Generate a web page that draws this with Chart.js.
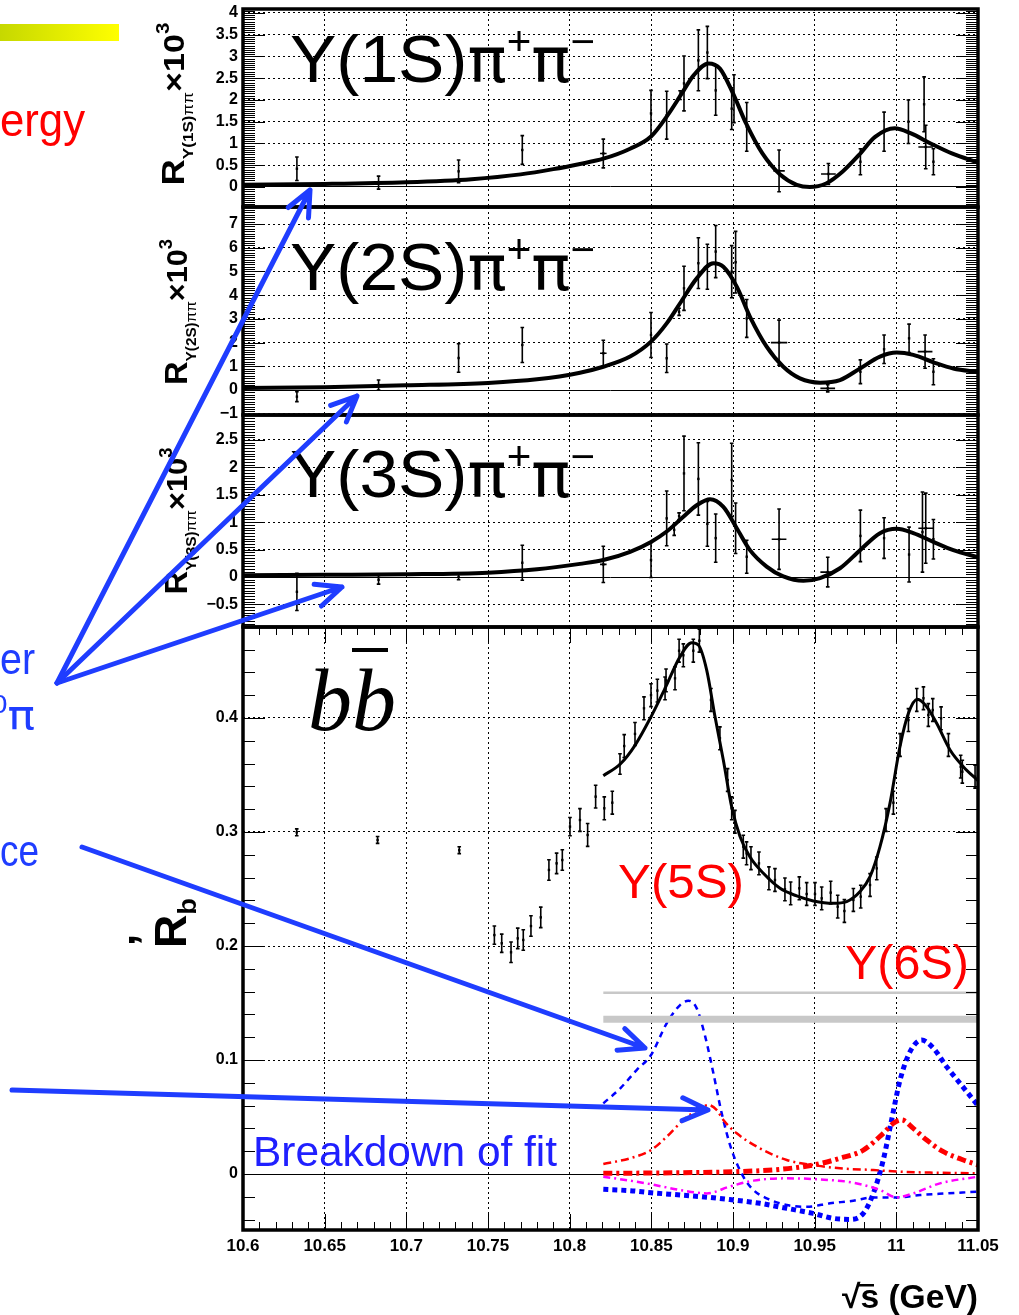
<!DOCTYPE html>
<html>
<head>
<meta charset="utf-8">
<script src="https://cdn.jsdelivr.net/npm/chart.js@4.4.1/dist/chart.umd.min.js"></script>
<style>
  body { margin: 0; background: #fff; }
  #wrap { position: relative; width: 1019px; height: 1315px; overflow: hidden; }
  #wrap canvas { position: absolute; left: 0; top: 0; }
</style>
</head>
<body>
<div id="wrap">
  <canvas id="p1" width="1019" height="1315"></canvas>
  <canvas id="p2" width="1019" height="1315"></canvas>
  <canvas id="p3" width="1019" height="1315"></canvas>
  <canvas id="p4" width="1019" height="1315"></canvas>
</div>
<script>
// x axis (sqrt(s) in GeV), shared by all panels
const xTickValues = [10.6, 10.65, 10.7, 10.75, 10.8, 10.85, 10.9, 10.95, 11, 11.05];
const xTickLabels = ['10.6', '10.65', '10.7', '10.75', '10.8', '10.85', '10.9', '10.95', '11', '11.05'];

// Y(1S) pi+ pi-   (R x 10^3)
const y1sX    = [10.633, 10.683, 10.732, 10.771, 10.8206, 10.8498, 10.8594, 10.8676, 10.870, 10.8788, 10.8843, 10.8894, 10.8992, 10.9006, 10.9084, 10.9282, 10.9584, 10.978, 10.9925, 11.0074, 11.017, 11.018, 11.0227];
const y1sR    = [0.42, 0.10, 0.36, 0.85, 0.77, 1.69, 1.65, 2.11, 2.38, 2.91, 3.09, 2.22, 1.80, 2.03, 1.38, 0.37, 0.30, 0.58, 1.27, 1.50, 1.90, 0.92, 0.58];
const y1sErr  = [0.27, 0.15, 0.26, 0.33, 0.33, 0.53, 0.55, 0.10, 0.63, 0.70, 0.60, 0.57, 0.48, 0.55, 0.56, 0.48, 0.24, 0.30, 0.45, 0.50, 0.63, 0.50, 0.30];
const y1sXErr = [0, 0, 0, 0, 0.002, 0, 0, 0, 0, 0, 0, 0, 0, 0, 0, 0.0035, 0.0045, 0, 0, 0, 0, 0.0045, 0];
const y1sFitX = [10.60, 10.65, 10.70, 10.74, 10.77, 10.79, 10.8063, 10.8206, 10.837, 10.8498, 10.86, 10.868, 10.876, 10.885, 10.892, 10.90, 10.908, 10.918, 10.929, 10.939, 10.947, 10.957, 10.967, 10.977, 10.987, 10.999, 11.009, 11.021, 11.034, 11.05];
const y1sFitR = [0.05, 0.07, 0.11, 0.18, 0.29, 0.41, 0.53, 0.65, 0.88, 1.16, 1.65, 2.11, 2.57, 2.84, 2.72, 2.15, 1.46, 0.77, 0.28, 0.05, 0.0, 0.08, 0.35, 0.73, 1.15, 1.35, 1.23, 1.0, 0.77, 0.56];
const y1sTicks = [0, 0.5, 1, 1.5, 2, 2.5, 3, 3.5, 4];

// Y(2S) pi+ pi-
const y2sX    = [10.633, 10.683, 10.732, 10.771, 10.8206, 10.8498, 10.8594, 10.867, 10.870, 10.8788, 10.8843, 10.8894, 10.8992, 10.9016, 10.9084, 10.9282, 10.958, 10.978, 10.9925, 11.0078, 11.0176, 11.0227];
const y2sR    = [-0.28, 0.21, 1.35, 1.90, 1.55, 2.32, 1.34, 3.30, 4.29, 5.35, 5.20, 5.84, 4.99, 5.39, 3.02, 2.00, 0.07, 0.77, 1.72, 2.18, 1.62, 0.77];
const y2sErr  = [0.21, 0.21, 0.60, 0.74, 0.55, 0.95, 0.60, 0.15, 0.93, 1.07, 0.95, 1.10, 1.10, 1.30, 0.80, 0.95, 0.15, 0.50, 0.60, 0.60, 0.70, 0.55];
const y2sXErr = [0, 0, 0, 0, 0.002, 0, 0, 0, 0, 0, 0, 0, 0, 0, 0, 0.005, 0.0045, 0, 0, 0, 0.0045, 0];
const y2sFitX = [10.60, 10.65, 10.70, 10.75, 10.78, 10.8063, 10.8206, 10.837, 10.8498, 10.8594, 10.8676, 10.8778, 10.888, 10.8941, 10.9023, 10.9104, 10.9206, 10.9308, 10.941, 10.9533, 10.9655, 10.9778, 10.99, 11.0002, 11.0104, 11.0227, 11.0349, 11.05];
const y2sFitR = [0.08, 0.12, 0.20, 0.30, 0.45, 0.73, 0.98, 1.41, 2.04, 2.81, 3.66, 4.71, 5.35, 5.20, 4.36, 3.09, 1.83, 0.98, 0.49, 0.31, 0.42, 0.91, 1.41, 1.58, 1.48, 1.17, 0.91, 0.76];
const y2sTicks = [-1, 0, 1, 2, 3, 4, 5, 6, 7];

// Y(3S) pi+ pi-
const y3sX    = [10.633, 10.683, 10.732, 10.771, 10.8206, 10.8498, 10.8594, 10.864, 10.867, 10.870, 10.8788, 10.8843, 10.8894, 10.8992, 10.9016, 10.9084, 10.9282, 10.958, 10.978, 10.9925, 11.0078, 11.016, 11.018, 11.0227];
const y3sR    = [-0.27, -0.05, 0.0, 0.26, 0.23, 0.31, 1.07, 0.86, 1.11, 1.89, 1.79, 0.97, 0.71, 1.77, 0.89, 0.37, 0.69, 0.09, 0.75, 0.71, 0.41, 0.82, 0.89, 0.69];
const y3sErr  = [0.34, 0.08, 0.05, 0.32, 0.33, 0.32, 0.50, 0.10, 0.06, 0.68, 0.66, 0.41, 0.44, 0.67, 0.46, 0.30, 0.55, 0.27, 0.47, 0.37, 0.50, 0.73, 0.64, 0.36];
const y3sXErr = [0, 0, 0, 0, 0.002, 0, 0, 0, 0, 0, 0, 0, 0, 0, 0, 0, 0.0045, 0.0045, 0, 0, 0, 0, 0.0045, 0];
const y3sFitX = [10.60, 10.65, 10.70, 10.75, 10.78, 10.8063, 10.8206, 10.837, 10.8498, 10.8594, 10.8696, 10.8778, 10.886, 10.8941, 10.9023, 10.9104, 10.9206, 10.9308, 10.9431, 10.9533, 10.9655, 10.9778, 10.99, 11.0002, 11.0104, 11.0227, 11.0349, 11.05];
const y3sFitR = [0.03, 0.04, 0.05, 0.08, 0.14, 0.24, 0.31, 0.46, 0.64, 0.83, 1.10, 1.31, 1.42, 1.28, 0.89, 0.49, 0.19, 0.01, -0.07, -0.02, 0.16, 0.49, 0.80, 0.88, 0.80, 0.64, 0.49, 0.36];
const y3sTicks = [-0.5, 0, 0.5, 1, 1.5, 2, 2.5];

// R_b (b bbar)
const bbX = [10.6329, 10.6824, 10.7324, 10.7539, 10.7584, 10.7641, 10.7682, 10.7716, 10.7763, 10.7823, 10.7873, 10.792, 10.7955, 10.8002, 10.8063, 10.811, 10.8159, 10.8212, 10.8261, 10.8308, 10.8334,
  10.84, 10.8455, 10.8498, 10.8537, 10.8584, 10.859, 10.8645, 10.867, 10.8696, 10.8757, 10.8794, 10.8865, 10.892, 10.8967, 10.8992, 10.9012, 10.9063, 10.9083, 10.911, 10.9159, 10.922, 10.9257,
  10.9318, 10.9353, 10.9406, 10.9451, 10.9502, 10.9543, 10.9598, 10.9641, 10.9682, 10.9737, 10.9782, 10.9839, 10.988, 10.9937, 10.9982, 11.0023, 11.0074, 11.0125, 11.0166, 11.0196, 11.0223,
  11.0274, 11.0319, 11.0394, 11.0404, 11.0482];
const bbR = [0.2997, 0.293, 0.284, 0.2096, 0.2024, 0.1945, 0.2067, 0.2053, 0.2175, 0.2251, 0.2667, 0.2725, 0.2754, 0.3047, 0.3105, 0.2974, 0.331, 0.3208, 0.3257, 0.3596, 0.3754,
  0.386, 0.4085, 0.420, 0.424, 0.426, 0.433, 0.4348, 0.459, 0.455, 0.459, 0.4678, 0.4158, 0.3822, 0.3456, 0.3208, 0.309, 0.2871, 0.2813, 0.277, 0.2725, 0.2594, 0.2579,
  0.2497, 0.2462, 0.2506, 0.2456, 0.2456, 0.2418, 0.2468, 0.2345, 0.2307, 0.2404, 0.2433, 0.2535, 0.2681, 0.3105, 0.3257, 0.3763, 0.3982, 0.4158, 0.4173, 0.4026, 0.407,
  0.3997, 0.3763, 0.3573, 0.3529, 0.3485];
const bbErr = [0.003, 0.003, 0.003, 0.008, 0.008, 0.009, 0.009, 0.009, 0.009, 0.009, 0.009, 0.009, 0.009, 0.008, 0.01, 0.01, 0.01, 0.01, 0.01, 0.009, 0.01,
  0.01, 0.01, 0.01, 0.01, 0.01, 0.01, 0.01, 0.01, 0.01, 0.01, 0.01, 0.01, 0.01, 0.01, 0.01, 0.01, 0.01, 0.01, 0.01, 0.01, 0.01, 0.01,
  0.01, 0.01, 0.01, 0.01, 0.01, 0.01, 0.01, 0.01, 0.01, 0.01, 0.01, 0.01, 0.01, 0.01, 0.01, 0.01, 0.01, 0.01, 0.01, 0.01, 0.01,
  0.01, 0.01, 0.01, 0.01, 0.01];
const bbFitX = [10.8206, 10.831, 10.840, 10.8498, 10.8584, 10.8676, 10.8747, 10.8788, 10.8839, 10.889, 10.8941, 10.8992, 10.9043, 10.9104, 10.9186, 10.9288, 10.939, 10.9492, 10.9614, 10.9696,
  10.9778, 10.9839, 10.99, 10.9961, 11.0022, 11.0074, 11.0129, 11.0186, 11.0247, 11.0329, 11.041, 11.05];
const bbFitR = [0.3494, 0.3596, 0.376, 0.401, 0.426, 0.4538, 0.466, 0.464, 0.442, 0.401, 0.363, 0.322, 0.296, 0.278, 0.2638, 0.2506, 0.2439, 0.2395, 0.2374, 0.2389,
  0.2477, 0.2608, 0.2871, 0.3251, 0.3748, 0.4041, 0.4164, 0.4099, 0.3953, 0.3719, 0.3573, 0.345];
const bbTicks = [0, 0.1, 0.2, 0.3, 0.4];

// breakdown of the fit
const blue5X = [10.8206, 10.831, 10.841, 10.8498, 10.8594, 10.8676, 10.8727, 10.8778, 10.883, 10.888, 10.8931, 10.8992, 10.9063, 10.9125, 10.9206, 10.9329, 10.9451, 10.9594, 10.9737, 10.9859, 11.0002, 11.0145, 11.0308, 11.05];
const blue5R = [0.062, 0.0752, 0.0912, 0.1044, 0.1322, 0.1482, 0.152, 0.1453, 0.1205, 0.0883, 0.0532, 0.021, -0.0023, -0.014, -0.0213, -0.0272, -0.0287, -0.0257, -0.0234, -0.0205, -0.0205, -0.0184, -0.017, -0.0155];
const blue6X = [10.8206, 10.837, 10.8498, 10.8676, 10.888, 10.9002, 10.9165, 10.9329, 10.949, 10.9614, 10.9716, 10.9798, 10.9859, 10.992, 10.9971, 11.0023, 11.0084, 11.0155, 11.0227, 11.0308, 11.039, 11.05];
const blue6R = [-0.0134, -0.0146, -0.0164, -0.0184, -0.0208, -0.0228, -0.0257, -0.0301, -0.0345, -0.0389, -0.0398, -0.0345, -0.017, 0.0123, 0.0474, 0.0825, 0.1073, 0.1175, 0.1103, 0.0941, 0.0795, 0.060];
const red5X = [10.8206, 10.837, 10.8498, 10.8594, 10.8696, 10.8798, 10.8849, 10.8901, 10.8941, 10.9023, 10.9165, 10.9329, 10.949, 10.9655, 10.9859, 11.0022, 11.0267, 11.05];
const red5R = [0.0088, 0.0138, 0.021, 0.0327, 0.0474, 0.0575, 0.0605, 0.056, 0.0474, 0.0357, 0.0225, 0.0123, 0.0079, 0.005, 0.0035, 0.002, 0.0011, 0.0006];
const red6X = [10.8206, 10.8676, 10.9002, 10.9288, 10.949, 10.9655, 10.9798, 10.992, 10.9982, 11.0033, 11.0104, 11.0186, 11.0288, 11.041, 11.05];
const red6R = [0.0006, 0.0011, 0.002, 0.0041, 0.0079, 0.0138, 0.021, 0.0357, 0.0445, 0.0474, 0.040, 0.0298, 0.0196, 0.0123, 0.0079];
const magX = [10.8206, 10.847, 10.8676, 10.884, 10.898, 10.9125, 10.9329, 10.9533, 10.9737, 10.99, 11.0002, 11.0104, 11.0267, 11.05];
const magR = [-0.0023, -0.0082, -0.014, -0.017, -0.011, -0.0058, -0.0038, -0.0047, -0.0076, -0.014, -0.0205, -0.017, -0.0082, -0.0023];
const bandX = [10.8206, 11.05];
const bandThin = [0.159, 0.159];
const bandThick = [0.1357, 0.1357];

const SANS = "'Liberation Sans', Arial, Helvetica, sans-serif";
const PI_FONT = "'DejaVu Sans', 'Liberation Sans', sans-serif";
const BLUE = '#1f3dff';

const pts = (xs, ys) => xs.map((x, i) => ({ x: x, y: ys[i] }));
const fmt = v => (v < 0 ? '\u2212' : '') + Math.abs(v);

// draw a run of text pieces [text, font, rise], squeezed/stretched to a width
function drawRich(ctx, parts, x, y, width) {
  let nat = 0;
  parts.forEach(p => { ctx.font = p[1]; nat += ctx.measureText(p[0]).width; });
  ctx.save();
  ctx.translate(x, y);
  ctx.scale(width / nat, 1);
  let cx = 0;
  parts.forEach(p => {
    ctx.font = p[1];
    ctx.fillText(p[0], cx, -(p[2] || 0));
    cx += ctx.measureText(p[0]).width;
  });
  ctx.restore();
}
function drawRotated(ctx, parts, bx, cy, len) {
  ctx.save();
  ctx.translate(bx, cy);
  ctx.rotate(-Math.PI / 2);
  drawRich(ctx, parts, -len / 2, 0, len);
  ctx.restore();
}

const errorBars = {
  id: 'errbars',
  afterDatasetsDraw(chart) {
    const ctx = chart.ctx, xs = chart.scales.x, ys = chart.scales.y;
    chart.data.datasets.forEach((ds, i) => {
      if (!ds.errY) return;
      const meta = chart.getDatasetMeta(i);
      ctx.save();
      ctx.strokeStyle = '#000';
      ctx.lineWidth = 1.6;
      meta.data.forEach((pt, j) => {
        const v = ds.data[j];
        const ya = ys.getPixelForValue(v.y + ds.errY[j]);
        const yb = ys.getPixelForValue(v.y - ds.errY[j]);
        ctx.beginPath();
        ctx.moveTo(pt.x, ya); ctx.lineTo(pt.x, yb);
        ctx.moveTo(pt.x - 1.8, ya); ctx.lineTo(pt.x + 1.8, ya);
        ctx.moveTo(pt.x - 1.8, yb); ctx.lineTo(pt.x + 1.8, yb);
        const ex = ds.errX ? ds.errX[j] : 0;
        if (ex) {
          ctx.moveTo(xs.getPixelForValue(v.x - ex), pt.y);
          ctx.lineTo(xs.getPixelForValue(v.x + ex), pt.y);
        }
        ctx.stroke();
      });
      ctx.restore();
    });
  }
};

// frame + inside ticks, ROOT style
function frameTicks(majorY, minorY, xMinor) {
  return {
    id: 'frame',
    afterDraw(chart) {
      const ctx = chart.ctx, a = chart.chartArea, ys = chart.scales.y, xs = chart.scales.x;
      ctx.save();
      ctx.strokeStyle = '#000';
      ctx.lineWidth = 1;
      const n0 = Math.ceil(ys.min / minorY - 1e-6), n1 = Math.floor(ys.max / minorY + 1e-6);
      ctx.beginPath();
      for (let k = n0; k <= n1; k++) {
        const v = k * minorY;
        const major = Math.abs(v / majorY - Math.round(v / majorY)) < 1e-6;
        const py = Math.round(ys.getPixelForValue(v)) + 0.5;
        const len = major ? 22 : 12;
        ctx.moveTo(a.left, py); ctx.lineTo(a.left + len, py);
        ctx.moveTo(a.right, py); ctx.lineTo(a.right - len, py);
      }
      if (xMinor) {
        const m0 = Math.ceil(xs.min / xMinor - 1e-6), m1 = Math.floor(xs.max / xMinor + 1e-6);
        for (let k = m0; k <= m1; k++) {
          const v = k * xMinor;
          const major = Math.abs(v / 0.05 - Math.round(v / 0.05)) < 1e-6;
          const px = Math.round(xs.getPixelForValue(v)) + 0.5;
          const len = major ? 16 : 8;
          ctx.moveTo(px, a.bottom); ctx.lineTo(px, a.bottom - len);
          ctx.moveTo(px, a.top); ctx.lineTo(px, a.top + len);
        }
      }
      ctx.stroke();
      ctx.lineWidth = 3.5;
      ctx.strokeRect(a.left, a.top, a.right - a.left, a.bottom - a.top);
      ctx.restore();
    }
  };
}

function makePanel(id, p) {
  const xAxisH = p.showX ? 40 : 0;
  return new Chart(document.getElementById(id), {
    type: 'scatter',
    data: { datasets: p.datasets },
    options: {
      responsive: false,
      animation: false,
      events: [],
      layout: { padding: { left: 0, right: 41, top: p.top, bottom: 1315 - p.bottom - xAxisH } },
      plugins: { legend: { display: false }, tooltip: { enabled: false } },
      scales: {
        x: {
          type: 'linear', min: 10.6, max: 11.05,
          afterBuildTicks: s => { s.ticks = xTickValues.map(v => ({ value: v })); },
          afterFit: s => { s.height = xAxisH; s.paddingLeft = 0; s.paddingRight = 0; },
          ticks: {
            display: !!p.showX, autoSkip: false, maxRotation: 0, padding: 6, color: '#000',
            font: { family: SANS, size: 17, weight: 'bold' },
            callback: (v, i) => xTickLabels[i]
          },
          grid: { color: '#000', lineWidth: 1, drawTicks: false },
          border: { display: false, dash: [2, 3] }
        },
        y: {
          type: 'linear', min: p.yMin, max: p.yMax,
          afterBuildTicks: s => { s.ticks = p.yTicks.map(v => ({ value: v })); },
          afterFit: s => { s.width = 243; s.paddingTop = 0; s.paddingBottom = 0; },
          ticks: {
            padding: 5, color: '#000',
            font: { family: SANS, size: 16, weight: 'bold' },
            callback: v => fmt(v)
          },
          grid: { color: '#000', lineWidth: 1, drawTicks: false },
          border: { display: false, dash: c => (c.tick && c.tick.value === 0 ? [] : [2, 3]) }
        }
      }
    },
    plugins: [errorBars, frameTicks(p.majorY, p.minorY, p.xMinor), { id: 'deco', afterDraw: p.deco }]
  });
}

function dataSet(xs, ys, err, xerr) {
  return {
    data: pts(xs, ys), errY: err, errX: xerr,
    pointStyle: 'rect', pointRadius: 1.7, backgroundColor: '#000', borderColor: '#000', borderWidth: 0
  };
}
function curve(xs, ys, color, width, dash) {
  return {
    data: pts(xs, ys), showLine: true, pointRadius: 0, borderColor: color, borderWidth: width,
    borderDash: dash || [], cubicInterpolationMode: 'monotone', fill: false
  };
}

function upsLabel(ctx, n, baseline) {
  ctx.save();
  ctx.fillStyle = '#000';
  drawRich(ctx, [
    ['\u03A5(' + n + 'S)', '66px ' + SANS, 0],
    ['\u03C0', '62px ' + PI_FONT, 0],
    ['+', '40px ' + SANS, 27],
    ['\u03C0', '62px ' + PI_FONT, 0],
    ['\u2212', '40px ' + SANS, 27]
  ], 290, baseline, 305);
  ctx.restore();
}
function upsTitle(ctx, n, bx, cy, len) {
  ctx.save();
  ctx.fillStyle = '#000';
  drawRotated(ctx, [
    ['R', 'bold 32px ' + SANS, 0],
    ['\u03A5(' + n + 'S)', 'bold 15px ' + SANS, -9],
    ['\u03C0\u03C0', '15px ' + SANS, -9],
    ['\u00D710', 'bold 30px ' + SANS, 0],
    ['3', 'bold 18px ' + SANS, 15]
  ], bx, cy, len);
  ctx.restore();
}

makePanel('p1', {
  top: 9, bottom: 207, yMin: -0.46, yMax: 4.09, yTicks: y1sTicks, majorY: 0.5, minorY: 0.05,
  datasets: [dataSet(y1sX, y1sR, y1sErr, y1sXErr), curve(y1sFitX, y1sFitR, '#000', 4)],
  deco: chart => { upsLabel(chart.ctx, 1, 82); upsTitle(chart.ctx, 1, 184, 104, 163); }
});
makePanel('p2', {
  top: 207, bottom: 415, yMin: -1.054, yMax: 7.72, yTicks: y2sTicks, majorY: 1, minorY: 0.1,
  datasets: [dataSet(y2sX, y2sR, y2sErr, y2sXErr), curve(y2sFitX, y2sFitR, '#000', 4)],
  deco: chart => { upsLabel(chart.ctx, 2, 290); upsTitle(chart.ctx, 2, 187, 312, 146); }
});
makePanel('p3', {
  top: 415, bottom: 627, yMin: -0.912, yMax: 2.956, yTicks: y3sTicks, majorY: 0.5, minorY: 0.05,
  datasets: [dataSet(y3sX, y3sR, y3sErr, y3sXErr), curve(y3sFitX, y3sFitR, '#000', 4)],
  deco: chart => { upsLabel(chart.ctx, 3, 497); upsTitle(chart.ctx, 3, 187, 521, 147); }
});

function arrow(ctx, x1, y1, x2, y2) {
  const a = Math.atan2(y2 - y1, x2 - x1), L = 28, w = 0.42;
  ctx.beginPath();
  ctx.moveTo(x1, y1); ctx.lineTo(x2, y2);
  ctx.moveTo(x2 - L * Math.cos(a - w), y2 - L * Math.sin(a - w));
  ctx.lineTo(x2, y2);
  ctx.lineTo(x2 - L * Math.cos(a + w), y2 - L * Math.sin(a + w));
  ctx.stroke();
}

makePanel('p4', {
  top: 627, bottom: 1230, yMin: -0.0491, yMax: 0.4798, yTicks: bbTicks, majorY: 0.1, minorY: 0.02, xMinor: 0.01, showX: true,
  datasets: [
    curve(bandX, bandThin, '#c8c8c8', 2.5),
    curve(bandX, bandThick, '#c8c8c8', 7),
    curve(magX, magR, '#ff00ff', 2.5, [7, 4, 2, 4]),
    curve(red5X, red5R, '#ff0000', 2.5, [8, 4, 2, 4]),
    curve(red6X, red6R, '#ff0000', 5, [9, 4, 3, 4]),
    curve(blue5X, blue5R, '#0000ff', 2.5, [6, 5]),
    curve(blue6X, blue6R, '#0000ff', 5, [5, 4]),
    dataSet(bbX, bbR, bbErr, null),
    curve(bbFitX, bbFitR, '#000', 3)
  ],
  deco: chart => {
    const ctx = chart.ctx;
    ctx.save();
    // b bbar
    ctx.fillStyle = '#000';
    ctx.font = 'italic 88px "Liberation Serif", "Times New Roman", serif';
    ctx.fillText('bb', 308, 730);
    ctx.fillRect(352, 648, 36, 4);
    // axis titles
    drawRotated(ctx, [['R', 'bold 44px ' + SANS, 0], ['b', 'bold 26px ' + SANS, -10]], 186, 923, 50);
    ctx.save();
    ctx.translate(186, 948); ctx.rotate(-Math.PI / 2);
    ctx.font = 'bold 44px ' + SANS;
    ctx.fillText('\u2019', 2, -26);
    ctx.restore();
    drawRich(ctx, [['\u221As (GeV)', 'bold 33px ' + SANS, 0]], 842, 1308, 136);
    ctx.fillRect(858, 1284, 16, 2.5);
    // resonance labels
    ctx.fillStyle = '#ff0000';
    drawRich(ctx, [['\u03A5(5S)', '49px ' + SANS, 0]], 618, 898, 126);
    drawRich(ctx, [['\u03A5(6S)', '49px ' + SANS, 0]], 845, 979, 124);
    ctx.fillStyle = '#2020ff';
    drawRich(ctx, [['Breakdown of fit', '43px ' + SANS, 0]], 253, 1166, 304);
    // slide annotations around the plot
    const g = ctx.createLinearGradient(0, 0, 119, 0);
    g.addColorStop(0, '#c6d800'); g.addColorStop(1, '#ffff00');
    ctx.fillStyle = g;
    ctx.fillRect(0, 24, 119, 17);
    ctx.fillStyle = '#ff0000';
    drawRich(ctx, [['ergy', '46px ' + SANS, 0]], 0, 136, 85);
    ctx.fillStyle = BLUE;
    drawRich(ctx, [['er', '44px ' + SANS, 0]], 0, 674, 35);
    drawRich(ctx, [['0', '26px ' + SANS, 16], ['\u03C0', '40px ' + PI_FONT, 0]], -9, 729, 44);
    drawRich(ctx, [['ce', '44px ' + SANS, 0]], 0, 866, 39);
    ctx.strokeStyle = BLUE;
    ctx.lineWidth = 5;
    ctx.lineCap = 'round';
    ctx.lineJoin = 'round';
    arrow(ctx, 57, 683, 310, 190);
    arrow(ctx, 57, 683, 357, 396);
    arrow(ctx, 57, 683, 342, 587);
    arrow(ctx, 82, 847, 645, 1048);
    arrow(ctx, 12, 1090, 708, 1110);
    ctx.restore();
  }
});
</script>
</body>
</html>
